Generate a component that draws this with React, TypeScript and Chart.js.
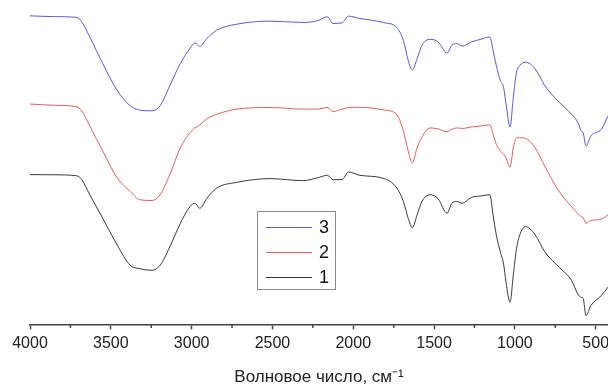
import React, { useEffect, useRef } from "react";
import { Chart, registerables } from "chart.js";

Chart.register(...registerables);

// Wavenumbers (cm^-1), shared by all three spectra
const wavenumbers = [
  4000, 3850, 3710, 3680, 3630, 3550, 3460, 3380, 3320, 3245, 3195, 3135, 3070, 3010, 2980, 2950,
  2905, 2845, 2720, 2515, 2310, 2225, 2160, 2125, 2070, 2030, 1960, 1815, 1730, 1690, 1660, 1635,
  1605, 1575, 1525, 1475, 1420, 1390, 1360, 1325, 1270, 1210, 1155, 1135, 1115, 1090, 1070, 1055,
  1030, 1010, 990, 970, 935, 875, 815, 735, 650, 610, 590, 578, 560, 530, 465, 424,
];

// Relative transmittance (offset, arbitrary units)
const series3 = [
  306.3, 305.5, 304.7, 300.3, 285.3, 259, 232, 217, 212.7, 212, 217, 237, 259, 274, 279.3, 276,
  284, 292, 298, 301, 299.7, 301.3, 305.3, 298.7, 299.3, 306, 303.7, 299.7, 294.5, 282, 262, 252.7,
  263.7, 277, 283, 280.3, 269.3, 277, 278.7, 276.3, 280.3, 283, 285.3, 272, 257, 242, 235.3, 219,
  196, 225.3, 250.3, 257, 260.3, 253.7, 237, 222, 208.7, 200.3, 192, 190.3, 177, 187, 193.7, 207,
];

const series2 = [
  218.7, 217.5, 216, 212, 197, 172, 145.3, 132, 123.7, 123, 128.7, 148.7, 175.3, 190.3, 195, 198,
  204, 208.5, 213.7, 215.3, 213.7, 213.7, 215.3, 211.3, 213.7, 215.3, 215.5, 213, 208, 192, 172, 160.3,
  175.3, 186, 195, 194, 191.3, 193.7, 195, 194.5, 196, 197, 198, 188.7, 178.7, 172, 169, 165.3,
  156, 175.3, 185, 185.3, 184.7, 175.3, 157, 134, 117, 110, 107, 106, 100.3, 103, 104.5, 108.7,
];

const series1 = [
  148.7, 148.5, 147.5, 143.7, 128.7, 105.3, 78.7, 58.7, 55.3, 53.7, 58.7, 77, 100.3, 117, 120.3, 115.3,
  125.3, 135.3, 141, 144.7, 142.7, 145.3, 148, 143.7, 143.7, 151.3, 148, 145, 135.3, 122, 105.3, 96,
  108.7, 122, 128.7, 124.7, 110.3, 120.3, 122, 120.3, 126, 127.5, 128.7, 108.7, 88.7, 72, 60, 42,
  22, 48.7, 75.3, 88.7, 97, 89, 72, 58, 43.7, 30, 27, 26, 8.7, 18.7, 28.7, 37,
];

const seriesLabels = ["3", "2", "1"];
const seriesColors = ["#5a5ad6", "#e06060", "#3a3a3a"];

const xTickValues = [4000, 3500, 3000, 2500, 2000, 1500, 1000, 500];
const xMinorTickValues = [3750, 3250, 2750, 2250, 1750, 1250, 750];
const xAxisTitle = "Волновое число, см⁻¹";

const FONT = '"Liberation Sans", Arial, sans-serif';

const minorTicksPlugin = {
  id: "minorTicks",
  afterDraw(chart: any) {
    const sx = chart.scales.x;
    const ctx = chart.ctx;
    const y0 = chart.chartArea.bottom;
    ctx.save();
    ctx.strokeStyle = "#444";
    ctx.lineWidth = 1.5;
    xMinorTickValues.forEach((v) => {
      const px = sx.getPixelForValue(v);
      ctx.beginPath();
      ctx.moveTo(px, y0);
      ctx.lineTo(px, y0 + 3.5);
      ctx.stroke();
    });
    ctx.restore();
  },
};

const boxLegendPlugin = {
  id: "boxLegend",
  afterDatasetsDraw(chart: any) {
    const ctx = chart.ctx;
    const left = 257;
    const top = 211;
    const w = 78;
    const h = 78;
    ctx.save();
    ctx.fillStyle = "#ffffff";
    ctx.fillRect(left, top, w, h);
    ctx.strokeStyle = "#8c8c8c";
    ctx.lineWidth = 1;
    ctx.strokeRect(left + 0.5, top + 0.5, w, h);
    chart.data.datasets.forEach((ds: any, i: number) => {
      const y = top + 16 + i * 25;
      ctx.strokeStyle = ds.borderColor;
      ctx.lineWidth = 1;
      ctx.beginPath();
      ctx.moveTo(left + 9, y + 0.5);
      ctx.lineTo(left + 55, y + 0.5);
      ctx.stroke();
      ctx.fillStyle = "#111";
      ctx.font = `18px ${FONT}`;
      ctx.textBaseline = "middle";
      ctx.textAlign = "left";
      ctx.fillText(ds.label, left + 62, y + 1);
    });
    ctx.restore();
  },
};

export default function App() {
  const canvasRef = useRef<HTMLCanvasElement | null>(null);

  useEffect(() => {
    document.body.style.margin = "0";
    const canvas = canvasRef.current;
    if (!canvas) return;
    const allSeries = [series3, series2, series1];
    const chart = new Chart(canvas, {
      type: "line",
      data: {
        datasets: allSeries.map((s, i) => ({
          label: seriesLabels[i],
          data: wavenumbers.map((x, j) => ({ x, y: s[j] })),
          borderColor: seriesColors[i],
          borderWidth: 1,
          pointRadius: 0,
          cubicInterpolationMode: "monotone" as const,
          fill: false,
        })),
      },
      options: {
        responsive: false,
        animation: false,
        layout: { padding: { left: 30, right: 0, top: 0, bottom: 1 } },
        plugins: {
          legend: { display: false },
          tooltip: { enabled: false },
        },
        scales: {
          x: {
            type: "linear",
            reverse: true,
            min: 424,
            max: 4000,
            afterBuildTicks: (scale: any) => {
              scale.ticks = xTickValues.map((v) => ({ value: v }));
            },
            afterFit: (scale: any) => {
              scale.paddingLeft = 0;
              scale.paddingRight = 0;
            },
            grid: {
              display: true,
              drawOnChartArea: false,
              drawTicks: true,
              tickLength: 5,
              tickColor: "#444",
              tickWidth: 1.5,
            },
            border: { display: true, color: "#444", width: 1.5 },
            ticks: {
              color: "#222",
              font: { family: FONT, size: 16 },
              padding: 5,
              maxRotation: 0,
              autoSkip: false,
              callback: (v: any) => String(v),
            },
            title: {
              display: true,
              text: xAxisTitle,
              color: "#222",
              font: { family: FONT, size: 17 },
              padding: { top: 9, bottom: 0 },
            },
          },
          y: {
            type: "linear",
            display: false,
            min: 0,
            max: 322,
          },
        },
      },
      plugins: [minorTicksPlugin, boxLegendPlugin],
    });
    return () => chart.destroy();
  }, []);

  return (
    <div style={{ width: 608, height: 389, background: "#fff" }}>
      <canvas ref={canvasRef} width={608} height={389} />
    </div>
  );
}
